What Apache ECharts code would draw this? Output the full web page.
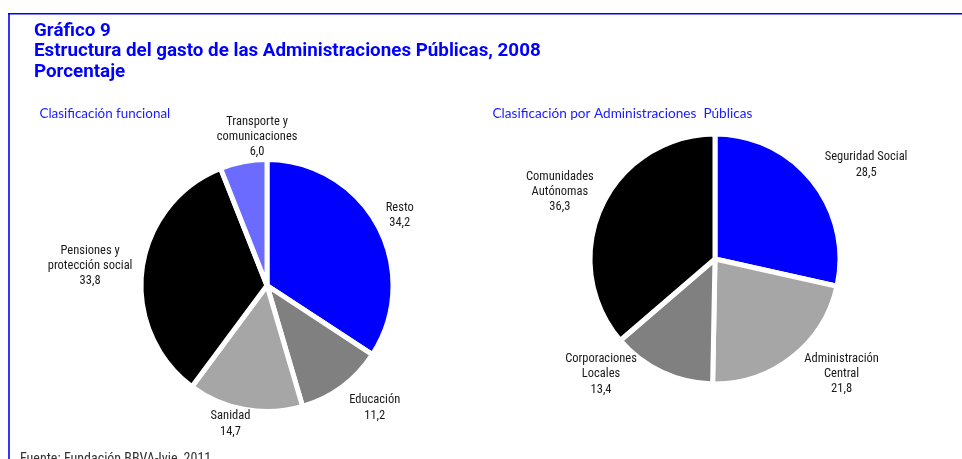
<!DOCTYPE html>
<html>
<head>
<meta charset="utf-8">
<script src="https://cdn.jsdelivr.net/npm/echarts@6/dist/echarts.min.js"></script>
<style>
  html, body { margin: 0; padding: 0; background: #fff; }
  #chart { width: 962px; height: 459px; }
</style>
</head>
<body>
<div id="chart"></div>
<script>
// Gasto por clasificación funcional (%)
const funcCategories = ['Resto', 'Educación', 'Sanidad', 'Pensiones y\nprotección social', 'Transporte y\ncomunicaciones'];
const funcValues = [34.2, 11.2, 14.7, 33.8, 6.0];

// Gasto por administraciones (%)
const adminCategories = ['Seguridad Social', 'Administración\nCentral', 'Corporaciones\nLocales', 'Comunidades\nAutónomas'];
const adminValues = [28.5, 21.8, 13.4, 36.3];

// Slice colours
const funcColors = ['#0000ff', '#808080', '#a6a6a6', '#000000', '#6b6bff'];
const adminColors = ['#0000ff', '#a6a6a6', '#808080', '#000000'];

// Pie geometry and label placement (distance from centre, angular tweak in degrees)
const pies = [
  { center: [267, 285.5], radius: 126, labelDist: [150, 163, 143, 178, 149], labelTurn: [0.6, -4.8, 4.7, -1.1, 7.0] },
  { center: [715, 259], radius: 125, labelDist: [178, 171, 162, 169], labelTurn: [6.8, -9.6, 19.5, -1.3] }
];

const FONT_LABEL = '"Roboto Condensed", Roboto, sans-serif';
const FONT_TITLE = 'Roboto, sans-serif';
const FONT_SUB = 'Lato, "Open Sans", sans-serif';

function midAngles(values) {
  const total = values.reduce((a, b) => a + b, 0);
  let acc = 0;
  return values.map(v => {
    const mid = (acc + v / 2) / total * 360;
    acc += v;
    return mid;
  });
}
const mids = [funcValues, adminValues].map(midAngles);

function fmt(v) { return v.toFixed(1).replace('.', ','); }

function makeSeries(idx, names, values, colors) {
  const p = pies[idx];
  return {
    type: 'pie',
    center: p.center,
    radius: p.radius,
    startAngle: 90,
    clockwise: true,
    avoidLabelOverlap: false,
    silent: true,
    animation: false,
    itemStyle: { borderColor: '#ffffff', borderWidth: 5, borderJoin: 'round' },
    label: {
      show: true,
      position: 'outside',
      formatter: prm => prm.name + '\n' + fmt(prm.value),
      fontFamily: FONT_LABEL,
      fontSize: 12.5,
      lineHeight: 15.3,
      color: '#1a1a1a',
      align: 'center'
    },
    labelLine: { show: false },
    labelLayout: prm => {
      const a = (mids[idx][prm.dataIndex] + p.labelTurn[prm.dataIndex]) * Math.PI / 180;
      const d = p.labelDist[prm.dataIndex];
      return {
        x: p.center[0] + d * Math.sin(a),
        y: p.center[1] - d * Math.cos(a),
        align: 'center',
        verticalAlign: 'middle',
        hideOverlap: false
      };
    },
    data: names.map((n, i) => ({ name: n, value: values[i], itemStyle: { color: colors[i] } }))
  };
}

const chart = echarts.init(document.getElementById('chart'), null, { renderer: 'canvas' });
chart.setOption({
  backgroundColor: '#ffffff',
  animation: false,
  title: [
    {
      text: 'Gráfico 9\nEstructura del gasto de las Administraciones Públicas, 2008\nPorcentaje',
      left: 34, top: 20.5, padding: 0,
      textStyle: { fontFamily: FONT_TITLE, fontWeight: 'bold', fontSize: 18.8, lineHeight: 20.8, color: '#0000ff' }
    },
    {
      text: 'Clasificación funcional',
      left: 39.5, top: 107, padding: 0,
      textStyle: { fontFamily: FONT_SUB, fontWeight: 'normal', fontSize: 13.4, color: '#1a1aff' }
    },
    {
      text: 'Clasificación por Administraciones  Públicas',
      left: 492.5, top: 107, padding: 0,
      textStyle: { fontFamily: FONT_SUB, fontWeight: 'normal', fontSize: 13.6, color: '#1a1aff' }
    },
    {
      text: 'Fuente: Fundación BBVA-Ivie, 2011',
      left: 20, top: 452.5, padding: 0,
      textStyle: { fontFamily: FONT_LABEL, fontWeight: 'normal', fontSize: 14, color: '#333333' }
    }
  ],
  graphic: [
    { type: 'line', shape: { x1: 8, y1: 13.8, x2: 962, y2: 13.8 }, style: { stroke: '#0000ff', lineWidth: 1.6 } },
    { type: 'line', shape: { x1: 9, y1: 13, x2: 9, y2: 459 }, style: { stroke: '#0000ff', lineWidth: 1.6 } }
  ],
  series: [
    makeSeries(0, funcCategories, funcValues, funcColors),
    makeSeries(1, adminCategories, adminValues, adminColors)
  ]
});
</script>
</body>
</html>
